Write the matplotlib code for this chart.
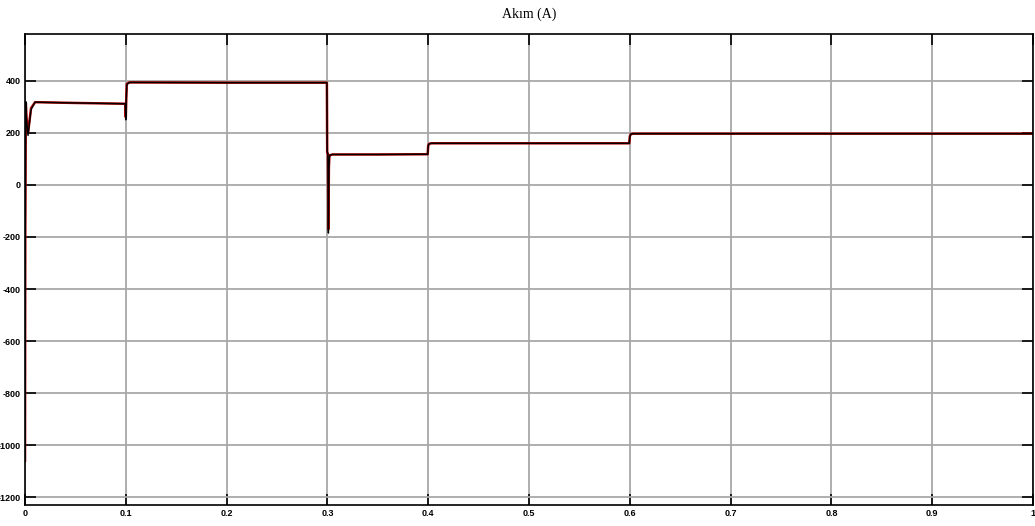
import numpy as np
import matplotlib.pyplot as plt

plt.rcParams["axes.unicode_minus"] = False

# breakpoints of the current trace
t_pts = [0, 0.0003, 0.0008, 0.0015, 0.003, 0.006, 0.01, 0.05, 0.0995, 0.1, 0.1005,
         0.101, 0.103, 0.105, 0.2, 0.2995, 0.2998, 0.3005, 0.301, 0.3015, 0.302,
         0.303, 0.305, 0.35, 0.3995, 0.4, 0.401, 0.403, 0.5, 0.5995, 0.6, 0.601,
         0.603, 0.8, 1.0]
i_meas = [-1060, -200, 320, 250, 190, 290, 318, 315, 312, 250, 330,
          385, 393, 394, 393, 393, 130, 120, -185, 60, 110,
          115, 117, 117, 118, 150, 158, 160, 160, 160, 185, 195,
          197, 197, 197]
i_ref = [-1060, -150, 315, 260, 200, 295, 318, 315, 312, 260, 335,
         388, 393, 394, 393, 393, 125, 118, -170, 70, 112,
         115, 117, 117, 118, 152, 158, 160, 160, 160, 187, 195,
         197, 197, 197]

y_ticks = [400, 200, 0, -200, -400, -600, -800, -1000, -1200]
x_ticks = [0, 0.1, 0.2, 0.3, 0.4, 0.5, 0.6, 0.7, 0.8, 0.9, 1]
x_labels = ["0", "0.1", "0.2", "0.3", "0.4", "0.5", "0.6", "0.7", "0.8", "0.9", "1"]

fig = plt.figure(figsize=(10.35, 5.26), dpi=100)
ax = fig.add_axes([25 / 1035, 1 - 505 / 526, 1008 / 1035, 471 / 526])

ax.plot(t_pts, i_ref, color="#b00000", linewidth=1.8)
ax.plot(t_pts, i_meas, color="black", linewidth=1.0)

ax.set_xlim(0, 1)
ax.set_ylim(-1230, 580)
ax.set_xticks(x_ticks)
ax.set_xticklabels(x_labels)
ax.set_yticks(y_ticks)
ax.grid(True, color="#a8a8a8", linewidth=1.3)
ax.tick_params(direction="in", length=8, width=1.2, top=True, right=True,
               labelsize=6.5, pad=3)
for lab in ax.get_xticklabels() + ax.get_yticklabels():
    lab.set_family("Liberation Sans")
    lab.set_fontweight("bold")
for s in ax.spines.values():
    s.set_linewidth(1.2)

ax.set_title("Akım (A)", fontsize=10, family="Liberation Serif", pad=12)

fig.savefig("out.png", dpi=100)
